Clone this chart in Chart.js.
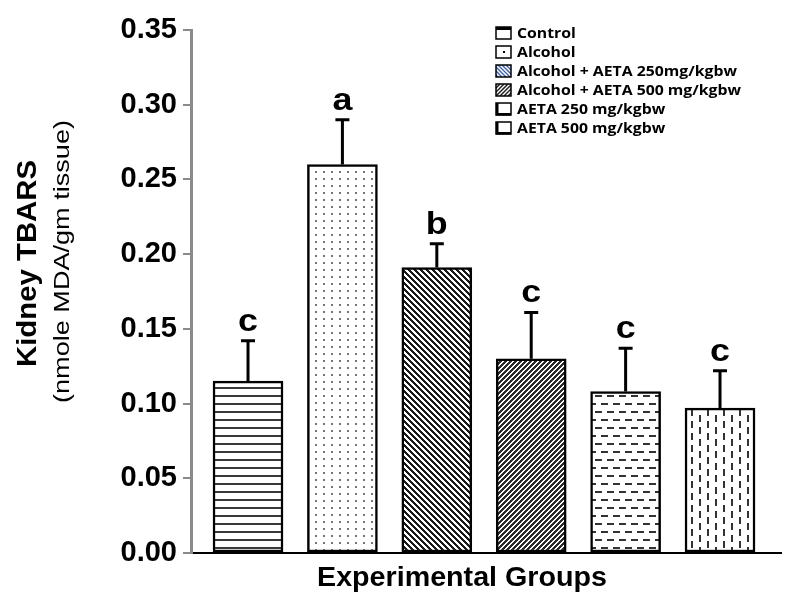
<!DOCTYPE html>
<html lang="en">
<head>
    <meta charset="UTF-8">
    <title>Kidney TBARS</title>
    <style>
        * { margin: 0; padding: 0; box-sizing: border-box; }
        body { background: #FFFFFF; }
        .chart-container { position: relative; width: 791px; height: 593px; }
    </style>
</head>
<body>
    <div class="chart-container">
        <canvas id="chart"></canvas>
    </div>

    <script src="https://cdn.jsdelivr.net/npm/chart.js@4/dist/chart.umd.min.js"></script>
    <script>
        // data
        const groups = ['Control', 'Alcohol', 'Alcohol + AETA 250mg/kgbw', 'Alcohol + AETA 500 mg/kgbw', 'AETA 250 mg/kgbw', 'AETA 500 mg/kgbw'];
        const means = [0.115, 0.260, 0.191, 0.130, 0.108, 0.097];
        const sem = [0.027, 0.030, 0.016, 0.031, 0.029, 0.025];
        const letters = ['c', 'a', 'b', 'c', 'c', 'c'];
        const yMin = 0, yMax = 0.35, yStep = 0.05;

        const yTitle = 'Kidney TBARS';
        const ySubTitle = '(nmole MDA/gm tissue)';
        const xTitle = 'Experimental Groups';

        const ARIAL = '"Liberation Sans", Arial, sans-serif';

        // fill patterns
        function tile(w, h, draw) {
            const c = document.createElement('canvas');
            c.width = w; c.height = h;
            const g = c.getContext('2d');
            g.fillStyle = '#fff';
            g.fillRect(0, 0, w, h);
            draw(g, w, h);
            return document.createElement('canvas').getContext('2d').createPattern(c, 'repeat');
        }
        // crisp pixel stripes: dir 1 = "/", dir -1 = "\"
        function stripes(n, d, dir, col) {
            return tile(n, n, g => {
                g.fillStyle = col;
                for (let y = 0; y < n; y++) {
                    for (let x = 0; x < n; x++) {
                        const t = dir > 0 ? (x + y) % n : ((x - y) % n + n) % n;
                        if (t < d) g.fillRect(x, y, 1, 1);
                    }
                }
            });
        }
        const patterns = [
            tile(8, 8, g => { g.fillStyle = '#3a3a3a'; g.fillRect(0, 3, 8, 2); }),
            tile(8, 7, g => { g.fillStyle = '#777'; g.fillRect(3, 3, 2, 2); }),
            stripes(6, 3, -1, '#1a1a1a'),
            stripes(5, 3, 1, '#2a2a2a'),
            tile(12, 16, g => {
                g.fillStyle = '#333';
                g.fillRect(1, 3, 7, 2);
                g.fillRect(7, 11, 7, 2);
                g.fillRect(-5, 11, 7, 2);
            }),
            tile(16, 12, g => {
                g.fillStyle = '#333';
                g.fillRect(3, 1, 2, 7);
                g.fillRect(11, 7, 2, 7);
                g.fillRect(11, -5, 2, 7);
            })
        ];

        // draw text stretched/squeezed to a given width, left edge at x
        function fitText(ctx, text, x, y, width) {
            const w = ctx.measureText(text).width;
            ctx.save();
            ctx.translate(x, y);
            ctx.scale(width / w, 1);
            ctx.textAlign = 'left';
            ctx.fillText(text, 0, 0);
            ctx.restore();
        }

        const errorBars = {
            id: 'errorBars',
            afterDatasetsDraw(chart) {
                const ctx = chart.ctx;
                const y = chart.scales.y;
                const meta = chart.getDatasetMeta(0);
                ctx.save();
                ctx.strokeStyle = '#000';
                ctx.lineWidth = 3;
                ctx.fillStyle = '#000';
                ctx.font = 'bold 32px ' + ARIAL;
                ctx.textAlign = 'center';
                ctx.textBaseline = 'alphabetic';
                meta.data.forEach((bar, i) => {
                    const top = y.getPixelForValue(means[i] + sem[i]);
                    const base = y.getPixelForValue(means[i]);
                    ctx.beginPath();
                    ctx.moveTo(bar.x, base);
                    ctx.lineTo(bar.x, top);
                    ctx.moveTo(bar.x - 7, top);
                    ctx.lineTo(bar.x + 7, top);
                    ctx.stroke();
                    ctx.save();
                    ctx.translate(bar.x, top - 10);
                    ctx.scale(1.12, 1);
                    ctx.fillText(letters[i], 0, 0);
                    ctx.restore();
                });
                ctx.restore();
            }
        };

        const axisTitles = {
            id: 'axisTitles',
            afterDraw(chart) {
                const ctx = chart.ctx;
                ctx.save();
                ctx.fillStyle = '#000';
                ctx.textBaseline = 'middle';
                ctx.font = 'bold 28px ' + ARIAL;
                fitText(ctx, xTitle, 317, 578, 290);
                ctx.rotate(-Math.PI / 2);
                // rotated frame: x = -pageY, y = pageX
                ctx.font = 'bold 28px ' + ARIAL;
                fitText(ctx, yTitle, -367, 28, 207);
                ctx.font = '22px ' + ARIAL;
                fitText(ctx, ySubTitle, -403, 63, 283);
                ctx.restore();
            }
        };

        const legendBox = {
            id: 'legendBox',
            afterDraw(chart) {
                const ctx = chart.ctx;
                const x0 = 496, rows = [33, 52, 71, 90, 109, 128];
                ctx.save();
                ctx.font = 'bold 14px "Open Sans", sans-serif';
                ctx.textBaseline = 'middle';
                const k = 224 / ctx.measureText(groups[3]).width;
                groups.forEach((name, i) => {
                    const yy = rows[i] - 6;
                    ctx.fillStyle = '#fff';
                    ctx.fillRect(x0, yy, 15, 12);
                    if (i === 2) {
                        ctx.fillStyle = '#3b5ea8';
                        ctx.fillRect(x0, yy, 15, 12);
                    }
                    if (i === 2 || i === 3) {
                        ctx.save();
                        ctx.beginPath(); ctx.rect(x0, yy, 15, 12); ctx.clip();
                        ctx.strokeStyle = i === 2 ? '#fff' : '#222';
                        ctx.lineWidth = 1.5;
                        for (let s = -12; s < 18; s += 4) {
                            ctx.beginPath();
                            if (i === 2) { ctx.moveTo(x0 + s, yy); ctx.lineTo(x0 + s + 12, yy + 12); }
                            else { ctx.moveTo(x0 + s, yy + 12); ctx.lineTo(x0 + s + 12, yy); }
                            ctx.stroke();
                        }
                        ctx.restore();
                    }
                    ctx.strokeStyle = '#000';
                    ctx.lineWidth = 1.5;
                    ctx.strokeRect(x0, yy, 15, 12);
                    ctx.fillStyle = '#000';
                    if (i === 0) ctx.fillRect(x0, yy, 15, 3);
                    if (i === 1) ctx.fillRect(x0 + 7, yy + 5, 2, 2);
                    if (i >= 4) { ctx.fillRect(x0, yy, 2.5, 12); ctx.fillRect(x0, yy + 10, 15, 2.5); }
                    const w = ctx.measureText(name).width * k;
                    fitText(ctx, name, x0 + 21, rows[i] + 1, w);
                });
                ctx.restore();
            }
        };

        new Chart(document.getElementById('chart'), {
            type: 'bar',
            data: {
                labels: groups,
                datasets: [{
                    data: means.map((v, i) => ({ x: i, y: v })),
                    backgroundColor: patterns,
                    borderColor: '#000',
                    borderWidth: 2.5,
                    borderSkipped: false,
                    barThickness: 70
                }]
            },
            options: {
                responsive: true,
                maintainAspectRatio: false,
                animation: false,
                layout: { padding: { top: 30, right: 10, left: 0, bottom: 0 } },
                plugins: { legend: { display: false }, tooltip: { enabled: false } },
                scales: {
                    x: {
                        type: 'linear',
                        offset: false,
                        min: -0.604,
                        max: 5.646,
                        ticks: { display: false },
                        grid: { display: true, drawOnChartArea: false, drawTicks: false, offset: false },
                        border: { display: true, color: '#000', width: 2 },
                        afterFit: s => { s.height = 40; }
                    },
                    y: {
                        min: yMin,
                        max: yMax,
                        ticks: {
                            stepSize: yStep,
                            padding: 6,
                            color: '#000',
                            font: { family: ARIAL, size: 29, weight: 'bold' },
                            callback: v => v.toFixed(2)
                        },
                        grid: { drawOnChartArea: false, drawTicks: true, tickLength: 8, color: '#8a8a8a', lineWidth: 2 },
                        border: { display: true, color: '#8a8a8a', width: 3 },
                        afterFit: s => { s.width = 191; }
                    }
                }
            },
            plugins: [errorBars, axisTitles, legendBox]
        });
    </script>
</body>
</html>
